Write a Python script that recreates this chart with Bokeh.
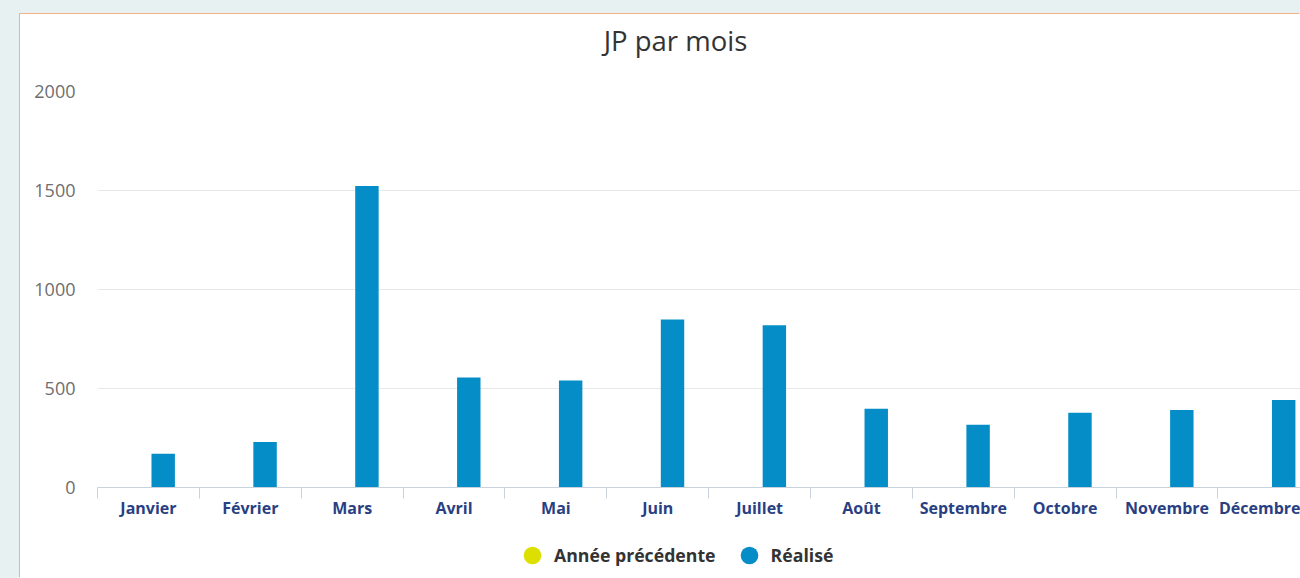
from bokeh.plotting import figure
from bokeh.layouts import column
from bokeh.models import (Range1d, FixedTicker, Legend, LegendItem, ColumnDataSource, Label)
from bokeh.embed import file_html
from bokeh.resources import INLINE

# ---- data ----
chart_title = "JP par mois"
months = ["Janvier", "Février", "Mars", "Avril", "Mai", "Juin", "Juillet",
          "Août", "Septembre", "Octobre", "Novembre", "Décembre"]
realise = [171, 230, 1523, 555, 541, 849, 819, 398, 317, 378, 391, 442]
annee_precedente = [0, 0, 0, 0, 0, 0, 0, 0, 0, 0, 0, 0]
y_ticks = [0, 500, 1000, 1500, 2000]
series_names = ["Année précédente", "Réalisé"]
series_colors = ["#dddf00", "#058dc7"]

FONT = "Open Sans"

idx = list(range(len(months)))
centers = [i + 0.5 for i in idx]
bounds = list(range(len(months) + 1))

# ---- title strip (frame is aligned with the chart frame: 1203 px wide) ----
pt = figure(width=1280, height=65, output_backend="svg", toolbar_location=None,
            x_range=Range1d(0, 1203), y_range=Range1d(0, 65),
            x_axis_location=None, y_axis_location=None, min_border=0)
pt.background_fill_color = "white"
pt.border_fill_color = "white"
pt.outline_line_color = None
pt.grid.visible = False
pt.add_layout(Label(x=578, y=39, text=chart_title, text_align="center",
                    text_baseline="alphabetic", text_font=FONT,
                    text_font_size="27.5px", text_color="#333333"))

# ---- main chart ----
p = figure(width=1280, height=451, output_backend="svg", toolbar_location=None,
           x_range=Range1d(0, 11.81), y_range=Range1d(0, 2000),
           min_border_left=77, min_border_right=0, min_border_top=12,
           min_border_bottom=43)
p.title.visible = False
p.background_fill_color = "white"
p.border_fill_color = "white"
p.outline_line_color = None

src_prev = ColumnDataSource(dict(x=[c - 0.15 for c in centers], top=annee_precedente))
src_real = ColumnDataSource(dict(x=[c + 0.145 for c in centers], top=realise))
p.vbar(x="x", top="top", width=0.23, source=src_prev,
       fill_color=series_colors[0], line_color=None)
p.vbar(x="x", top="top", width=0.23, source=src_real,
       fill_color=series_colors[1], line_color=None)

# x axis
xa = p.xaxis[0]
xa.ticker = FixedTicker(ticks=centers, minor_ticks=bounds)
xa.major_label_overrides = {c: m for c, m in zip(centers, months)}
xa.major_tick_out = 0
xa.major_tick_in = 0
xa.minor_tick_out = 11
xa.minor_tick_in = 0
xa.minor_tick_line_color = "#c8d2dc"
xa.axis_line_color = "#c8d2dc"
xa.major_label_standoff = -2
xa.major_label_text_font = FONT
xa.major_label_text_font_size = "16px"
xa.major_label_text_font_style = "bold"
xa.major_label_text_color = "#2a3f82"

# y axis
ya = p.yaxis[0]
ya.ticker = FixedTicker(ticks=y_ticks)
ya.axis_line_color = None
ya.major_tick_out = 0
ya.major_tick_in = 0
ya.minor_tick_line_color = None
ya.major_label_standoff = 22
ya.major_label_text_font = FONT
ya.major_label_text_font_size = "18px"
ya.major_label_text_color = "#6e6e6e"

p.xgrid.visible = False
p.ygrid.grid_line_color = "#e8e8e8"
p.ygrid.ticker = FixedTicker(ticks=y_ticks)

# ---- legend strip ----
pl = figure(width=1280, height=48, output_backend="svg", toolbar_location=None,
            x_range=Range1d(0, 1), y_range=Range1d(0, 1),
            x_axis_location=None, y_axis_location=None,
            min_border=0)
pl.background_fill_color = "white"
pl.border_fill_color = "white"
pl.outline_line_color = None
pl.grid.visible = False

nan = float("nan")
r_prev = pl.scatter(x=[nan], y=[nan], marker="circle", size=17,
                    fill_color=series_colors[0], line_color=None)
r_real = pl.scatter(x=[nan], y=[nan], marker="circle", size=17,
                    fill_color=series_colors[1], line_color=None)
legend = Legend(items=[LegendItem(label=series_names[0], renderers=[r_prev]),
                       LegendItem(label=series_names[1], renderers=[r_real])],
                orientation="horizontal", location=(413, 1))
legend.glyph_width = 44
legend.glyph_height = 44
legend.label_standoff = 0
legend.spacing = 11
legend.label_text_font = FONT
legend.label_text_font_size = "17.7px"
legend.label_text_font_style = "bold"
legend.label_text_color = "#333333"
legend.border_line_color = None
legend.background_fill_alpha = 0
legend.margin = 0
legend.padding = 0
pl.add_layout(legend, "center")

panel = column(pt, p, pl, width=1280, height=564, spacing=0,
               margin=(14, 0, 0, 20),
               styles={"background-color": "white",
                       "box-shadow": "-1px -1px 0 0 #f6b08a"})
layout = column(panel, width=1300, height=578,
                styles={"background-color": "#e8f1f1"})

open("out.html", "w").write(file_html(layout, INLINE))
